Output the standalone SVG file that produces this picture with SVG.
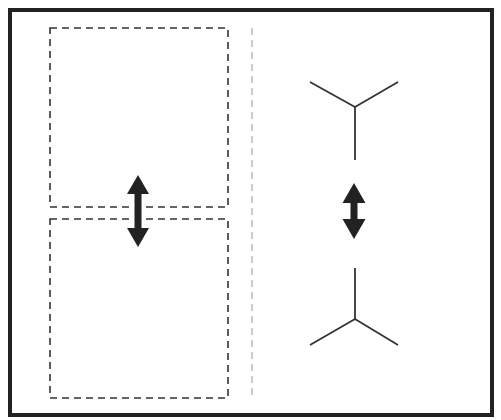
<svg xmlns="http://www.w3.org/2000/svg" width="501" height="420" viewBox="0 0 501 420">
<style>
.frame{fill:none;stroke:#222;stroke-width:4}
.box{fill:none;stroke:#333;stroke-width:1.6;stroke-dasharray:7,5}
.div{fill:none;stroke:#aaa;stroke-width:1.2;stroke-dasharray:7,5}
.y{fill:none;stroke:#333;stroke-width:1.8}
.arr{fill:#222;stroke:#fff;stroke-width:2;paint-order:stroke}
</style>
<rect width="501" height="420" fill="#fff"/>
<rect class="frame" x="10" y="10" width="482" height="405"/>
<g id="topBox"><rect class="box" x="50" y="28" width="178" height="179"/></g>
<g id="bottomBox"><rect class="box" x="50" y="219" width="178" height="179"/></g>
<g id="divider"><line class="div" x1="252" y1="28" x2="252" y2="398"/></g>
<g id="topY"><polyline class="y" points="310,82 355,107 398,82"/><line class="y" x1="355" y1="107" x2="355" y2="160"/></g>
<g id="bottomY"><polyline class="y" points="310,345 355,319 398,345"/><line class="y" x1="355" y1="319" x2="355" y2="268"/></g>
<g id="connectors">
<path class="arr" d="M138,175 L149,194 L141.5,194 L141.5,228 L149,228 L138,247 L127,228 L134.5,228 L134.5,194 L127,194 Z"/>
<path class="arr" d="M354,183 L365.5,203 L357.5,203 L357.5,219 L365.5,219 L354,239 L342.5,219 L350.5,219 L350.5,203 L342.5,203 Z"/>
</g>
</svg>
